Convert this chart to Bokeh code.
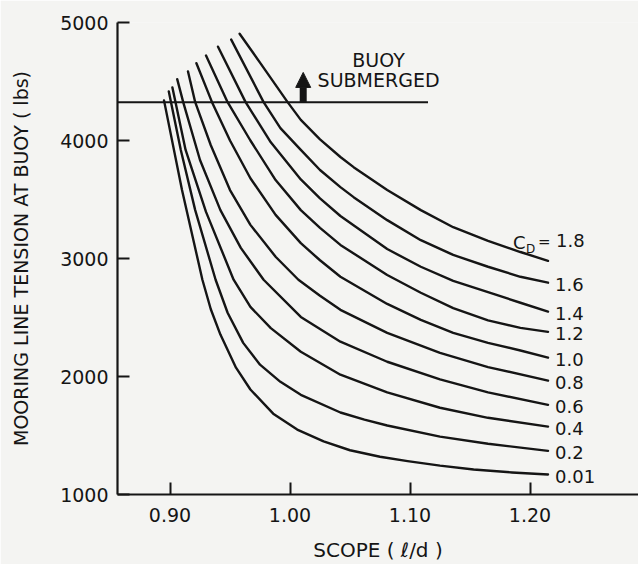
from bokeh.plotting import figure
from bokeh.models import FixedTicker, Label, Arrow, NormalHead, Range1d, NumeralTickFormatter
from bokeh.embed import file_html
from bokeh.resources import INLINE
from bokeh.core.properties import value

FONT = "DejaVu Sans"
INK = "#151515"
PAPER = "#f4f4f2"

# ---- data ----
cd_labels = ["1.8", "1.6", "1.4", "1.2", "1.0", "0.8", "0.6", "0.4", "0.2", "0.01"]

scope_cd18 = [0.958, 0.975, 0.998, 1.009, 1.025, 1.042, 1.053, 1.081, 1.109, 1.136, 1.165, 1.192, 1.215]
tension_cd18 = [4905, 4660, 4325, 4175, 4010, 3860, 3774, 3580, 3410, 3265, 3150, 3055, 2980]

scope_cd16 = [0.951, 0.978, 0.992, 1.009, 1.025, 1.042, 1.053, 1.081, 1.109, 1.136, 1.165, 1.192, 1.215]
tension_cd16 = [4855, 4325, 4105, 3920, 3750, 3605, 3520, 3325, 3155, 3030, 2930, 2845, 2795]

scope_cd14 = [0.940, 0.963, 0.984, 1.009, 1.025, 1.042, 1.081, 1.109, 1.136, 1.165, 1.192, 1.215]
tension_cd14 = [4795, 4325, 3985, 3670, 3510, 3360, 3080, 2930, 2810, 2715, 2625, 2550]

scope_cd12 = [0.930, 0.948, 0.967, 0.988, 1.009, 1.025, 1.042, 1.081, 1.109, 1.136, 1.165, 1.192, 1.215]
tension_cd12 = [4720, 4325, 4000, 3665, 3410, 3260, 3115, 2860, 2710, 2580, 2475, 2412, 2378]

scope_cd10 = [0.922, 0.935, 0.950, 0.967, 0.988, 1.009, 1.025, 1.042, 1.081, 1.109, 1.136, 1.165, 1.192, 1.215]
tension_cd10 = [4655, 4325, 4000, 3680, 3370, 3130, 2985, 2845, 2615, 2480, 2370, 2285, 2220, 2160]

scope_cd08 = [0.915, 0.921, 0.934, 0.950, 0.967, 0.988, 1.007, 1.025, 1.042, 1.081, 1.125, 1.165, 1.215]
tension_cd08 = [4585, 4325, 3960, 3580, 3285, 3015, 2820, 2685, 2565, 2370, 2200, 2080, 1965]

scope_cd06 = [0.906, 0.911, 0.925, 0.942, 0.959, 0.978, 1.009, 1.042, 1.081, 1.125, 1.165, 1.215]
tension_cd06 = [4520, 4325, 3835, 3410, 3090, 2820, 2505, 2295, 2125, 1975, 1865, 1760]

scope_cd04 = [0.902, 0.913, 0.930, 0.953, 0.967, 0.984, 1.009, 1.042, 1.081, 1.125, 1.165, 1.215]
tension_cd04 = [4450, 3920, 3395, 2820, 2590, 2410, 2210, 2015, 1865, 1735, 1650, 1575]

scope_cd02 = [0.899, 0.909, 0.921, 0.938, 0.948, 0.961, 0.975, 0.992, 1.009, 1.042, 1.062, 1.081, 1.125, 1.165, 1.215]
tension_cd02 = [4415, 3920, 3410, 2820, 2540, 2285, 2100, 1955, 1845, 1695, 1635, 1585, 1490, 1430, 1370]

scope_cd001 = [0.895, 0.910, 0.927, 0.934, 0.942, 0.955, 0.967, 0.986, 1.006, 1.028, 1.050, 1.075, 1.098, 1.125, 1.153, 1.185, 1.215]
tension_cd001 = [4340, 3580, 2820, 2570, 2355, 2075, 1890, 1685, 1550, 1450, 1375, 1320, 1283, 1245, 1212, 1187, 1170]

x_ticks = [0.90, 1.00, 1.10, 1.20]
y_ticks = [1000, 2000, 3000, 4000, 5000]

submerged_tension = 4325
submerged_scope_end = 1.115
arrow_scope = 1.011
arrow_tip_tension = 4577

scopes = [scope_cd18, scope_cd16, scope_cd14, scope_cd12, scope_cd10,
          scope_cd08, scope_cd06, scope_cd04, scope_cd02, scope_cd001]
tensions = [tension_cd18, tension_cd16, tension_cd14, tension_cd12, tension_cd10,
            tension_cd08, tension_cd06, tension_cd04, tension_cd02, tension_cd001]

# ---- figure ----
p = figure(width=638, height=564,
           x_range=Range1d(0.85625, 1.2904), y_range=Range1d(1000, 5000),
           output_backend="svg", toolbar_location=None,
           min_border_left=117, min_border_right=0,
           min_border_top=22, min_border_bottom=69)
p.background_fill_color = PAPER
p.border_fill_color = PAPER
p.outline_line_color = None
p.grid.visible = False

xa = p.xaxis[0]
ya = p.yaxis[0]
xa.ticker = FixedTicker(ticks=x_ticks)
xa.formatter = NumeralTickFormatter(format="0.00")
ya.ticker = FixedTicker(ticks=y_ticks)
for ax in (xa, ya):
    ax.axis_line_width = 2.2
    ax.axis_line_color = INK
    ax.major_tick_line_width = 2
    ax.major_tick_line_color = INK
    ax.major_tick_in = 12
    ax.major_tick_out = 0
    ax.minor_tick_line_color = None
    ax.major_label_text_font = FONT
    ax.major_label_text_font_size = "19px"
    ax.major_label_text_color = INK
    ax.axis_label_text_font = FONT
    ax.axis_label_text_font_style = "normal"
    ax.axis_label_text_color = INK
xa.major_label_standoff = 13
ya.major_label_standoff = 9

xa.axis_label = "SCOPE ( \u2113/d )"
xa.axis_label_text_font_size = "20px"
xa.axis_label_standoff = 13
ya.axis_label = "MOORING LINE TENSION AT BUOY ( lbs)"
ya.axis_label_text_font_size = "19px"
ya.axis_label_standoff = 25

# curves
for xs, ys in zip(scopes, tensions):
    p.line(xs, ys, line_width=2.4, line_color=INK, line_join="round", line_cap="round")

# buoy submerged line + arrow
p.line([p.x_range.start, submerged_scope_end], [submerged_tension, submerged_tension],
       line_width=2, line_color=INK)
p.add_layout(Arrow(end=NormalHead(size=15, fill_color=INK, line_color=INK, line_width=1),
                   x_start=arrow_scope, y_start=submerged_tension,
                   x_end=arrow_scope, y_end=arrow_tip_tension,
                   line_width=7, line_color=INK))

for txt, yy in (("BUOY", 4679), ("SUBMERGED", 4510)):
    p.add_layout(Label(x=1.0738, y=yy, text=txt, text_align="center", text_baseline="middle",
                       text_font=FONT, text_font_size="19px", text_color=INK))

# curve labels
end_x = [s[-1] for s in scopes]
end_y = [t[-1] for t in tensions]
p.text(x=end_x[1:], y=end_y[1:], text=cd_labels[1:], x_offset=7, y_offset=2,
       text_baseline="middle", text_align="left", text_font=value(FONT),
       text_font_size="18px", text_color=INK)
p.text(x=[end_x[0]], y=[end_y[0]], text=[cd_labels[0]], x_offset=8, y_offset=-20,
       text_baseline="middle", text_align="left", text_font=value(FONT),
       text_font_size="18px", text_color=INK)
p.text(x=[end_x[0]], y=[end_y[0]], text=["C"], x_offset=-35, y_offset=-18,
       text_baseline="middle", text_align="left", text_font=value(FONT),
       text_font_size="18px", text_color=INK)
p.text(x=[end_x[0]], y=[end_y[0]], text=["D"], x_offset=-22, y_offset=-12,
       text_baseline="middle", text_align="left", text_font=value(FONT),
       text_font_size="12px", text_color=INK)
p.text(x=[end_x[0]], y=[end_y[0]], text=["="], x_offset=-10, y_offset=-19,
       text_baseline="middle", text_align="left", text_font=value(FONT),
       text_font_size="15px", text_color=INK)

open("out.html", "w").write(file_html(p, INLINE))
